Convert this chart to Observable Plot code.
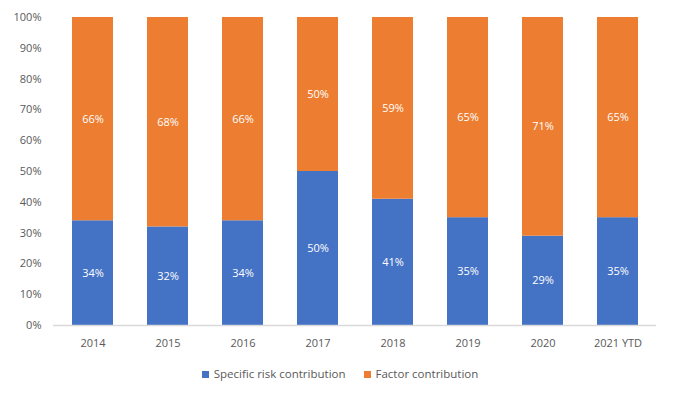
<!DOCTYPE html>
<html><head><meta charset="utf-8">
<script src="https://cdn.jsdelivr.net/npm/d3@7"></script>
<script src="https://cdn.jsdelivr.net/npm/@observablehq/plot@0.6"></script>
<style>
body{margin:0;background:#fff;font-family:"Open Sans",sans-serif;}
#legend{display:flex;justify-content:center;gap:18px;font-size:11.5px;color:#595959;margin-top:6px;padding-left:0px}
#legend span.sw{display:inline-block;width:7px;height:7px;margin-right:5px;vertical-align:0px}
</style></head>
<body><div id="chart"></div><div id="legend"></div>
<script>
const years = ["2014","2015","2016","2017","2018","2019","2020","2021 YTD"];
const specific = [34,32,34,50,41,35,29,35];
const factor = [66,68,66,50,59,65,71,65];
const seriesNames = ["Specific risk contribution","Factor contribution"];
const colors = ["#4472C4","#ED7D31"];
const yTicks = [0,10,20,30,40,50,60,70,80,90,100];

const data = [];
years.forEach((y,i)=>{
  data.push({year:y, series:seriesNames[0], value:specific[i]});
  data.push({year:y, series:seriesNames[1], value:factor[i]});
});

const chart = Plot.plot({
  width:680, height:360,
  marginTop:17, marginBottom:35, marginLeft:53, marginRight:24,
  style:{fontFamily:"'Open Sans',sans-serif", fontSize:"11px", color:"#595959", background:"#fff"},
  x:{domain:years, paddingInner:0.46, paddingOuter:0.23, label:null, tickSize:0, tickPadding:14},
  y:{domain:[0,100], ticks:yTicks, tickFormat:d=>d+"%", label:null, tickSize:0, tickPadding:12},
  color:{domain:seriesNames, range:colors},
  marks:[
    Plot.barY(data, {x:"year", y:"value", fill:"series", order:seriesNames}),
    Plot.ruleY([0], {stroke:"#d9d9d9", strokeWidth:1.5}),
    Plot.text(data, Plot.stackY({x:"year", y:"value", z:"series", order:seriesNames, text:d=>d.value+"%", fill:"white", fontSize:11}))
  ]
});
document.getElementById("chart").append(chart);
const leg = document.getElementById("legend");
seriesNames.forEach((n,i)=>{
  const s=document.createElement("span");
  s.innerHTML=`<span class="sw" style="background:${colors[i]}"></span>${n}`;
  leg.append(s);
});
</script></body></html>
